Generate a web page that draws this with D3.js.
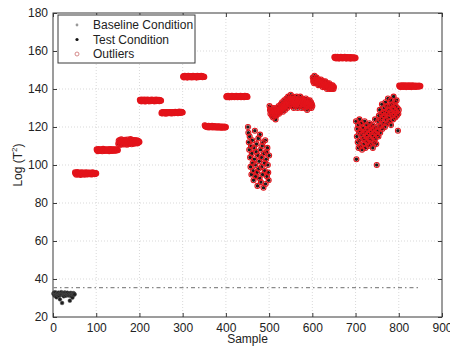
<!DOCTYPE html>
<html>
<head>
<meta charset="utf-8">
<script src="https://cdn.jsdelivr.net/npm/d3@7"></script>
<style>
  body { margin: 0; background: #fff; }
  svg { font-family: "Liberation Sans", Arial, Helvetica, sans-serif; }
</style>
</head>
<body>
<svg id="chart" width="450" height="347"></svg>
<script>
// sample values, one array per block of 50 samples
const baseline = [32.4,31.8,32.9,31.2,32.1,33.0,31.6,30.4,32.3,31.9,32.6,31.4,32.8,31.1,32.2,29.3,32.5,31.7,33.1,32.0,27.4,32.7,31.8,32.4,30.9,32.1,32.9,31.5,32.6,31.2,32.3,31.9,32.8,31.6,32.0,31.4,32.5,31.4,28.6,31.8,32.7,31.1,32.4,31.9,30.2,32.1,32.6,31.7,32.3,31.9];
const test1 = [96.1,95.4,95.8,94.9,95.6,96.3,95.2,95.9,95.0,95.7,96.0,95.3,95.8,94.8,95.5,96.2,95.1,95.6,95.9,95.2,95.7,96.0,94.9,95.4,95.8,95.3,96.1,95.5,95.0,95.7,95.2,95.9,95.4,96.0,95.1,95.6,95.3,95.8,95.0,95.5,96.1,95.2,95.7,95.4,95.9,95.1,95.6,95.3,95.8,95.5];
const test2 = [108.2,107.6,108.0,107.3,108.4,107.8,107.5,108.1,107.9,107.4,108.3,107.7,108.0,107.2,107.9,108.5,107.6,108.1,107.8,107.4,108.2,107.9,107.5,108.0,107.7,108.3,107.6,107.9,108.1,107.3,107.8,108.4,107.5,108.0,107.7,108.2,107.4,107.9,108.1,107.6,108.3,107.8,107.5,108.0,107.7,108.2,107.6,107.9,108.1,107.8];
const test3 = [111.2,112.8,110.9,113.1,111.7,112.4,110.6,113.5,111.9,112.6,111.1,113.0,112.2,110.8,112.9,111.5,113.3,112.0,111.3,112.7,110.7,113.4,111.8,112.5,111.0,112.9,112.3,111.4,113.6,111.6,112.1,110.9,113.2,111.8,112.6,111.2,112.9,111.5,113.1,112.0,111.3,112.8,111.7,113.0,112.2,111.4,112.7,111.9,112.4,112.1];
const test4 = [134.3,133.7,134.0,133.5,134.4,133.9,134.1,133.6,134.2,133.8,134.5,133.6,134.0,133.4,134.3,133.9,134.1,133.7,134.4,133.8,134.0,133.5,134.2,133.9,134.3,133.6,134.1,133.8,134.4,133.7,134.0,133.9,134.2,133.5,134.3,133.8,134.1,133.6,134.4,133.9,134.0,133.7,134.2,133.8,134.3,133.6,134.1,133.9,134.0,133.8];
const test5 = [127.3,127.8,127.1,127.6,127.9,127.4,127.7,127.2,127.8,127.5,127.0,127.6,127.9,127.3,127.7,127.4,127.8,127.2,127.6,127.9,127.5,127.3,127.8,127.6,127.1,127.7,127.4,127.9,127.5,127.8,127.3,127.6,128.0,127.4,127.7,127.5,127.9,127.6,127.3,127.8,127.5,128.1,127.7,127.4,127.9,127.6,128.0,127.7,127.8,127.6];
const test6 = [146.4,146.8,146.1,146.6,146.9,146.3,146.7,146.2,146.5,146.8,146.0,146.6,146.9,146.4,146.7,146.2,146.5,146.8,146.3,146.6,146.1,146.7,146.4,146.9,146.5,146.2,146.6,146.8,146.3,146.7,146.5,146.0,146.6,146.9,146.4,146.7,146.2,146.5,146.8,146.3,146.6,146.4,146.9,146.5,146.7,146.2,146.6,146.4,146.5,146.3];
const test7 = [120.9,120.4,120.6,120.1,120.5,120.3,119.9,120.4,120.2,120.6,119.8,120.3,120.5,120.0,120.4,119.9,120.2,120.6,120.1,119.8,120.3,120.5,120.0,119.9,120.4,120.1,119.7,120.3,120.0,119.8,120.2,119.9,120.4,119.7,120.1,119.9,120.3,119.8,120.0,119.6,120.2,119.9,120.1,119.7,120.0,119.8,120.2,119.9,119.7,120.0];
const test8 = [135.9,136.3,135.7,136.1,136.4,135.8,136.2,135.6,136.0,136.3,135.9,136.1,135.7,136.4,136.0,135.8,136.2,135.9,136.3,135.7,136.1,136.0,135.8,136.4,135.9,136.2,135.7,136.1,136.3,135.8,136.0,136.2,135.9,136.4,135.7,136.1,136.0,135.8,136.3,135.9,136.2,135.7,136.0,136.4,135.8,136.1,135.9,136.3,136.0,135.8];
const test9 = [120,117,112,108,115,104,99,110,95,106,113,101,97,92,109,103,118,100,94,107,111,96,89,105,114,98,102,93,116,108,91,104,99,110,95,112,88,106,101,97,113,90,103,107,94,109,100,96,92,105];
const test10 = [131,129,127,130,128,126,129,127,125,128,130,126,127,129,124,128,126,130,127,129,128,131,127,129,130,128,132,129,131,133,130,128,132,130,134,131,129,133,131,135,132,130,134,136,131,133,135,132,134,137];
const test11 = [133,135,131,134,136,132,130,134,133,135,131,134,132,136,133,130,134,132,135,131,133,136,132,134,130,133,135,131,134,132,133,130,134,132,135,131,133,129,134,132,131,133,130,134,132,131,133,130,132,131];
const test12 = [146,144,145,143,147,144,145,143,144,146,143,145,144,142,145,143,144,142,143,145,142,144,143,141,144,142,143,141,142,144,141,143,142,140,143,141,142,141,143,140,142,141,140,142,141,140,142,141,140,141];
const test13 = [156.8,156.3,157.0,156.5,156.1,156.7,156.4,156.9,156.2,156.6,156.8,156.0,156.5,156.7,156.3,156.9,156.4,156.6,156.1,156.8,156.5,156.2,156.7,156.4,156.9,156.3,156.6,156.0,156.5,156.8,156.2,156.7,156.4,156.6,156.1,156.5,156.3,156.8,156.0,156.4,156.6,156.2,156.5,156.3,156.7,156.1,156.4,156.2,156.5,156.3];
const test14 = [123,103,115,119,112,121,109,117,124,113,118,110,122,116,108,120,114,119,111,117,123,113,109,118,115,121,112,116,119,110,114,122,117,111,120,113,118,116,121,109,115,119,112,117,124,114,120,111,100,116];
const test15 = [118,123,115,126,120,129,117,124,121,127,132,119,125,128,122,130,126,120,133,124,128,131,122,127,135,125,129,123,131,127,134,121,128,132,126,130,124,136,129,127,133,125,131,128,134,126,130,118,127,129];
const test16 = [141.8,141.3,141.6,141.0,141.7,141.4,141.9,141.2,141.5,141.8,141.1,141.6,141.3,141.9,141.4,141.7,141.0,141.5,141.8,141.2,141.6,141.4,141.9,141.1,141.5,141.7,141.3,141.8,141.0,141.6,141.4,141.9,141.2,141.5,141.7,141.3,141.6,141.1,141.8,141.4,141.5,141.2,141.7,141.3,141.6,141.4,141.8,141.5,141.3,141.6];

const testBlocks = [test1, test2, test3, test4, test5, test6, test7, test8, test9, test10, test11, test12, test13, test14, test15, test16];
const threshold = 35.5;
const thresholdEnd = 850;
const xTicks = [0, 100, 200, 300, 400, 500, 600, 700, 800, 900];
const yTicks = [20, 40, 60, 80, 100, 120, 140, 160, 180];
const legendLabels = ['Baseline Condition', 'Test Condition', 'Outliers'];

const margin = { left: 53, right: 8, top: 13, bottom: 30 };
const width = 450, height = 347;

const svg = d3.select('#chart');

const x = d3.scaleLinear().domain([0, 900]).range([margin.left, width - margin.right]);
const y = d3.scaleLinear().domain([20, 180]).range([height - margin.bottom, margin.top]);

// samples numbered from 1
const basePts = baseline.map((v, i) => ({ s: i + 1, v }));
const testPts = testBlocks.flatMap((b, k) => b.map((v, i) => ({ s: baseline.length + k * 50 + i + 1, v })));

// grid
const grid = svg.append('g').attr('stroke', '#cfcfcf').attr('stroke-dasharray', '1,2').attr('stroke-width', 0.8);
grid.selectAll('.gx').data(xTicks.slice(1, -1)).join('line')
  .attr('x1', d => x(d)).attr('x2', d => x(d))
  .attr('y1', y(20)).attr('y2', y(180));
grid.selectAll('.gy').data(yTicks.slice(1, -1)).join('line')
  .attr('x1', x(0)).attr('x2', x(900))
  .attr('y1', d => y(d)).attr('y2', d => y(d));

// axes, ticks pointing inward
const axisColor = '#3a3a3a';
svg.append('g')
  .attr('transform', `translate(0,${y(20)})`)
  .call(d3.axisBottom(x).tickValues(xTicks).tickSize(-4).tickPadding(6))
  .call(g => g.select('.domain').remove());
svg.append('g')
  .attr('transform', `translate(${x(0)},0)`)
  .call(d3.axisLeft(y).tickValues(yTicks).tickSize(-4).tickPadding(5))
  .call(g => g.select('.domain').remove());
svg.append('g')
  .attr('transform', `translate(0,${y(180)})`)
  .call(d3.axisTop(x).tickValues(xTicks).tickSize(-4).tickFormat(''))
  .call(g => g.select('.domain').remove());
svg.append('g')
  .attr('transform', `translate(${x(900)},0)`)
  .call(d3.axisRight(y).tickValues(yTicks).tickSize(-4).tickFormat(''))
  .call(g => g.select('.domain').remove());
svg.selectAll('.tick line').attr('stroke', axisColor);
svg.selectAll('.tick text').attr('fill', '#222').attr('font-size', 12)
  .attr('font-family', '"Liberation Sans", Arial, sans-serif');

svg.append('rect')
  .attr('x', x(0)).attr('y', y(180))
  .attr('width', x(900) - x(0)).attr('height', y(20) - y(180))
  .attr('fill', 'none').attr('stroke', axisColor).attr('stroke-width', 1);

// threshold line
svg.append('line')
  .attr('x1', x(0)).attr('x2', x(thresholdEnd))
  .attr('y1', y(threshold)).attr('y2', y(threshold))
  .attr('stroke', '#8a8a8a').attr('stroke-width', 1.2)
  .attr('stroke-dasharray', '4,3,1.5,3');

// baseline points
svg.append('g')
  .selectAll('circle')
  .data(basePts)
  .join('circle')
  .attr('cx', d => x(d.s)).attr('cy', d => y(d.v))
  .attr('r', 1.9).attr('fill', '#1e1e1e').attr('stroke', '#555').attr('stroke-width', 0.5);

// test points
svg.append('g')
  .selectAll('circle')
  .data(testPts)
  .join('circle')
  .attr('cx', d => x(d.s)).attr('cy', d => y(d.v))
  .attr('r', 1.8).attr('fill', '#1a1a1a');

// outliers
svg.append('g')
  .selectAll('circle')
  .data(testPts)
  .join('circle')
  .attr('cx', d => x(d.s)).attr('cy', d => y(d.v))
  .attr('r', 2.5).attr('fill', 'none').attr('stroke', '#e3141b').attr('stroke-width', 1.1);

// legend
const legend = svg.append('g').attr('transform', 'translate(58,15)');
legend.append('rect')
  .attr('width', 137).attr('height', 48)
  .attr('fill', '#fff').attr('stroke', axisColor).attr('stroke-width', 1);
const rows = legend.selectAll('g.row').data(legendLabels).join('g')
  .attr('transform', (d, i) => `translate(0,${10 + i * 14.5})`);
rows.append('text')
  .attr('x', 35).attr('dy', '0.35em')
  .attr('font-size', 12).attr('fill', '#222')
  .text(d => d);
rows.filter((d, i) => i === 0).append('circle')
  .attr('cx', 19).attr('r', 1.4).attr('fill', '#9a9a9a');
rows.filter((d, i) => i === 1).append('circle')
  .attr('cx', 19).attr('r', 1.6).attr('fill', '#111');
rows.filter((d, i) => i === 2).append('circle')
  .attr('cx', 19).attr('r', 2).attr('fill', 'none').attr('stroke', '#d58a8a').attr('stroke-width', 1);

// axis titles
svg.append('text')
  .attr('x', (x(0) + x(900)) / 2).attr('y', 343)
  .attr('text-anchor', 'middle').attr('font-size', 12).attr('fill', '#222')
  .text('Sample');
const yl = svg.append('text')
  .attr('transform', `translate(22,${(y(20) + y(180)) / 2}) rotate(-90)`)
  .attr('text-anchor', 'middle').attr('font-size', 12).attr('fill', '#222');
yl.append('tspan').text('Log (T');
yl.append('tspan').attr('font-size', 8).attr('dy', -5).text('2');
yl.append('tspan').attr('dy', 5).text(')');
</script>
</body>
</html>
